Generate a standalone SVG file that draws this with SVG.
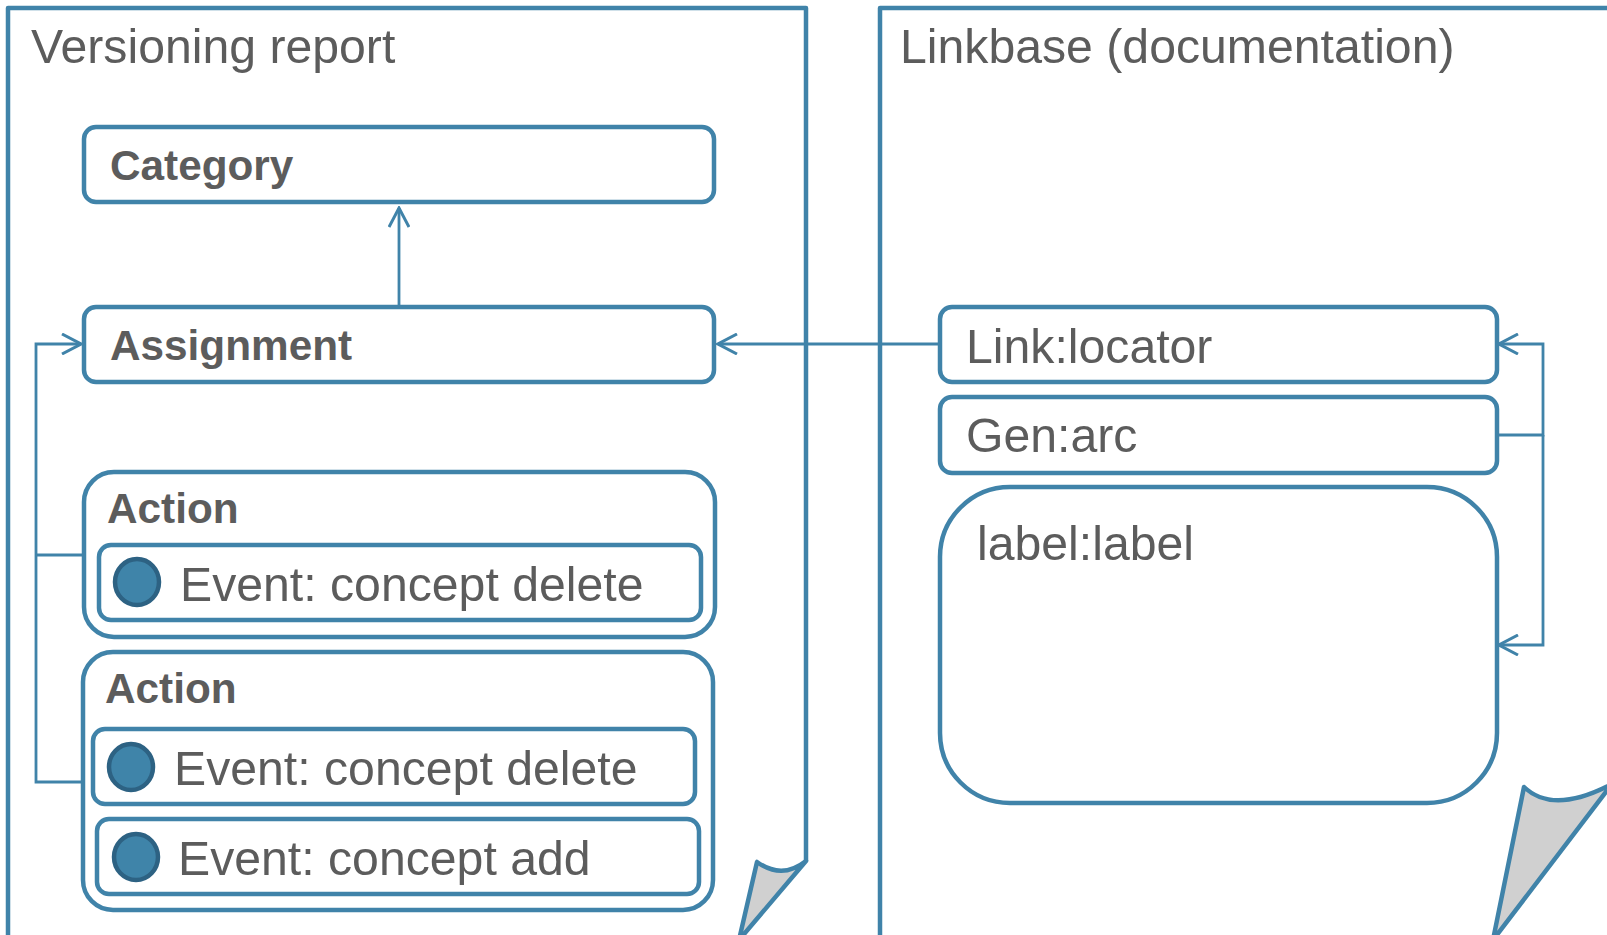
<svg xmlns="http://www.w3.org/2000/svg" width="1607" height="935" viewBox="0 0 1607 935">
<style>
.page{fill:#ffffff;stroke:#4083a9;stroke-width:4.5;stroke-linejoin:round}
.curl{fill:#d0d0d0;stroke:#4083a9;stroke-width:4.5;stroke-linejoin:round}
.box{fill:#ffffff;stroke:#4083a9;stroke-width:4.5}
.con{fill:none;stroke:#4083a9;stroke-width:2.8}
.dot{fill:#3f84a9;stroke:#2d6283;stroke-width:4.5}
.t{font-family:"Liberation Sans",Arial,sans-serif;fill:#5c5c5c}
.h{font-size:48.2px}
.b{font-size:42.3px;font-weight:bold}
.r{font-size:48.2px}
</style>
<defs>
<marker id="arr" markerUnits="userSpaceOnUse" viewBox="0 0 22 22" refX="20" refY="11" markerWidth="22" markerHeight="22" orient="auto">
<path d="M1,1 L20,11 L1,21" fill="none" stroke="#4083a9" stroke-width="3"/>
</marker>
</defs>
<g id="page-versioning">
<path class="page" d="M8,945 L8,8 L806,8 L806,861"/>
<path class="curl" d="M806,861 Q782,880 757,862 L739,940 Z"/>
<text class="t h" x="31" y="63">Versioning report</text>
</g>
<g id="page-linkbase">
<path class="page" d="M880,945 L880,8 L1615,8"/>
<path class="curl" d="M1524,787 Q1553,815 1612,784 L1493,940 Z"/>
<text class="t h" x="900" y="63">Linkbase (documentation)</text>
</g>
<g id="connectors">
<path class="con" d="M399,306 L399,208" marker-end="url(#arr)"/>
<path class="con" d="M84,555 L36,555 L36,782 L83,782 M36,555 L36,344 L81,344" marker-end="url(#arr)"/>
<path class="con" d="M940,344 L718,344" marker-end="url(#arr)"/>
<path class="con" d="M1497,435 L1543,435 L1543,344 L1499,344" marker-end="url(#arr)"/>
<path class="con" d="M1543,435 L1543,645 L1499,645" marker-end="url(#arr)"/>
</g>
<g id="category">
<rect class="box" x="84" y="127" width="630" height="75" rx="12"/>
<text class="t b" x="110" y="180">Category</text>
</g>
<g id="assignment">
<rect class="box" x="84" y="307" width="630" height="75" rx="12"/>
<text class="t b" x="110" y="360">Assignment</text>
</g>
<g id="action1">
<rect class="box" x="84" y="472" width="631" height="165" rx="30"/>
<text class="t b" x="107" y="523">Action</text>
</g>
<g id="event1">
<rect class="box" x="99" y="545" width="602" height="75" rx="12"/>
<ellipse class="dot" cx="137" cy="582" rx="22" ry="23"/>
<text class="t r" x="180" y="601">Event: concept delete</text>
</g>
<g id="action2">
<rect class="box" x="83" y="652" width="630" height="258" rx="30"/>
<text class="t b" x="105" y="703">Action</text>
</g>
<g id="event2">
<rect class="box" x="93" y="729" width="602" height="75" rx="12"/>
<ellipse class="dot" cx="131" cy="767" rx="22" ry="23"/>
<text class="t r" x="174" y="785">Event: concept delete</text>
</g>
<g id="event3">
<rect class="box" x="97" y="819" width="602" height="75" rx="12"/>
<ellipse class="dot" cx="136" cy="857" rx="22" ry="23"/>
<text class="t r" x="178" y="875">Event: concept add</text>
</g>
<g id="link-locator">
<rect class="box" x="940" y="307" width="557" height="75" rx="12"/>
<text class="t r" x="966" y="363">Link:locator</text>
</g>
<g id="gen-arc">
<rect class="box" x="940" y="397" width="557" height="76" rx="12"/>
<text class="t r" x="966" y="452">Gen:arc</text>
</g>
<g id="label-label">
<rect class="box" x="940" y="487" width="557" height="316" rx="70"/>
<text class="t r" x="977" y="560">label:label</text>
</g>
</svg>
